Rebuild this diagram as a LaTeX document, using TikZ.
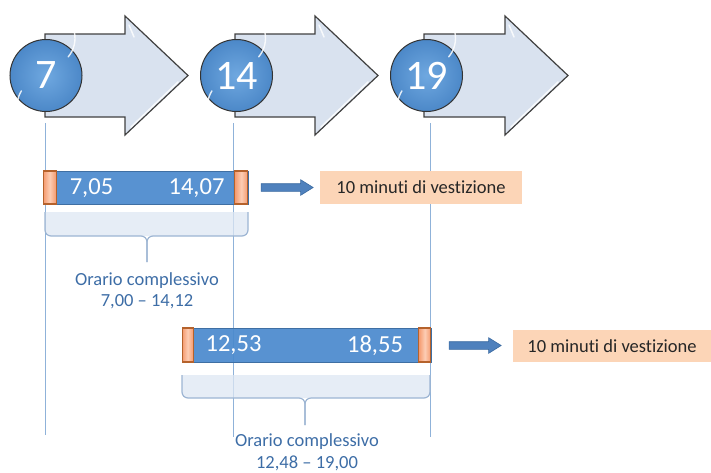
\documentclass[tikz,border=0pt]{standalone}
\usepackage{fontspec}
\setmainfont{Carlito}[Ligatures={TeX,NoCommon}]
\usetikzlibrary{shapes.arrows,calc}
\definecolor{arrowfill}{HTML}{D9E2EF}
\definecolor{arrowdraw}{HTML}{404040}
\definecolor{ballin}{HTML}{6FA8E0}
\definecolor{ballout}{HTML}{4C88C8}
\definecolor{barblue}{HTML}{4A89CD}
\definecolor{bardraw}{HTML}{3F6FA3}
\definecolor{capfill}{HTML}{F59A6E}
\definecolor{caplight}{HTML}{FCCDB4}
\definecolor{capdraw}{HTML}{B5622C}
\definecolor{peach}{HTML}{FCD5B7}
\definecolor{bracefill}{HTML}{DDE7F3}
\definecolor{bracedraw}{HTML}{9DB5D3}
\definecolor{vline}{HTML}{8FB2D9}
\definecolor{labelblue}{HTML}{3D6DA6}
\definecolor{smallfill}{HTML}{4F81BD}
\definecolor{smalldraw}{HTML}{3A6AA0}
\begin{document}
\begin{tikzpicture}[x=1pt,y=-1pt,
  bigarrow/.style={fill=arrowfill,draw=arrowdraw,line width=1.2pt,line join=miter},
  bevel/.style={white,line width=1.5pt,opacity=.8,line cap=round},
  ball/.style={circle,minimum size=72pt,inner sep=0pt,draw=black!80,line width=1pt,
    inner color=ballin,outer color=ballout,text=white,font=\fontsize{42}{42}\selectfont},
  gloss/.style={white,line width=1.4pt,opacity=.85,line cap=round},
  vertline/.style={draw=vline,line width=1pt},
  barbox/.style={rectangle,fill=barblue,draw=bardraw,line width=0.8pt,inner sep=0pt,fill opacity=.92},
  capbox/.style={rectangle,left color=capfill,right color=capfill,middle color=caplight,
    draw=capdraw,line width=1.2pt,inner sep=0pt,minimum height=#1},
  bartext/.style={text=white,inner sep=0pt,font=\fontsize{24.5}{26}\selectfont},
  smallarrow/.style={single arrow,fill=smallfill,draw=smalldraw,line width=0.6pt,
    inner xsep=0pt,inner ysep=3.5pt,minimum height=52pt,single arrow head extend=4pt,
    single arrow tip angle=64},
  peachbox/.style={rectangle,fill=peach,inner sep=0pt,text=black!85,font=\fontsize{18.5}{20}\selectfont},
  bracefillst/.style={fill=bracefill,fill opacity=.75},
  bracelinest/.style={draw=bracedraw,line width=1.2pt},
  spanlabel/.style={align=center,text=labelblue,inner sep=0pt,font=\fontsize{18.5}{21.5}\selectfont}
]
\useasboundingbox (0,0) rectangle (711,472);

% big block arrows
\foreach \x/\h/\t in {45/80/143,235/80/143,424/81/144}{
  \draw[bigarrow] (\x,34) -- (\x+\h,34) -- (\x+\h,16) -- (\x+\t,75.5) -- (\x+\h,135) -- (\x+\h,117) -- (\x,117) -- cycle;
  \draw[bevel] (\x+\h+4,25) -- (\x+\h+9,37);
  \draw[bevel] (\x+\t-10,82) -- (\x+\h+6,127);
}

% numbered balls
\node[ball] (c7) at (46,75.5) {7};
\node[ball] (c14) at (236.5,75.5) {14};
\node[ball] (c19) at (426.5,75.5) {19};
\foreach \c in {c7,c14,c19}{
  \draw[gloss] ($(\c.center)+(148:29)$) arc[start angle=148,end angle=205,radius=29pt];
  \draw[gloss] ($(\c.center)+(-40:29)$) arc[start angle=-40,end angle=12,radius=29pt];
}

% vertical guide lines
\coordinate (l1t) at (45,123);  \coordinate (l1b) at (45,435);
\coordinate (l2t) at (233,123); \coordinate (l2b) at (233,437);
\coordinate (l3t) at (430,123); \coordinate (l3b) at (430,437);
\draw[vertline] (l1t) -- (l1b);
\draw[vertline] (l2t) -- (l2b);
\draw[vertline] (l3t) -- (l3b);

% brace 1
\fill[bracefillst] (45,212) [rounded corners=6pt] -- (45,236) -- (248,236) [sharp corners] -- (248,212) -- cycle;
\draw[bracelinest,rounded corners=6pt] (45,212) -- (45,236) -- (147,236) -- (147,262);
\draw[bracelinest,rounded corners=6pt] (248,212) -- (248,236) -- (147,236) -- (147,262);
% brace 2
\fill[bracefillst] (182,375) [rounded corners=6pt] -- (182,398) -- (430,398) [sharp corners] -- (430,375) -- cycle;
\draw[bracelinest,rounded corners=6pt] (182,375) -- (182,398) -- (305,398) -- (305,425);
\draw[bracelinest,rounded corners=6pt] (430,375) -- (430,398) -- (305,398) -- (305,425);

% bar 1
\node[barbox,minimum width=205pt,minimum height=33pt] (bar1) at (145.5,187.5) {};
\node[capbox=33pt,minimum width=13pt,anchor=west] (bar1l) at (bar1.west) {};
\node[capbox=33pt,minimum width=13pt,anchor=east] (bar1r) at (bar1.east) {};
\node[bartext] (t705) at (91.5,188) {7,05};
\node[bartext] (t1407) at (196.5,188) {14,07};
% bar 2
\node[barbox,minimum width=249pt,minimum height=34pt] (bar2) at (306.5,345) {};
\node[capbox=34pt,minimum width=11pt,anchor=west] (bar2l) at (bar2.west) {};
\node[capbox=34pt,minimum width=12pt,anchor=east] (bar2r) at (bar2.east) {};
\node[bartext] (t1253) at (233.5,345.5) {12,53};
\node[bartext] (t1855) at (375,345.5) {18,55};

% peach boxes
\node[peachbox,minimum width=202pt,minimum height=33pt] (box1) at (421,187.5) {10 minuti di vestizione};
\node[peachbox,minimum width=198pt,minimum height=32pt] (box2) at (612,346) {10 minuti di vestizione};

% small connector arrows
\node[smallarrow] (sa1) at ($(bar1.east)!0.5!(box1.west)$) {};
\node[smallarrow] (sa2) at ($(bar2.east)!0.5!(box2.west)$) {};

% labels
\node[spanlabel] (lab1) at (147,291) {Orario complessivo\\7,00 – 14,12};
\node[spanlabel] (lab2) at (307,452) {Orario complessivo\\12,48 – 19,00};
\end{tikzpicture}
\end{document}
